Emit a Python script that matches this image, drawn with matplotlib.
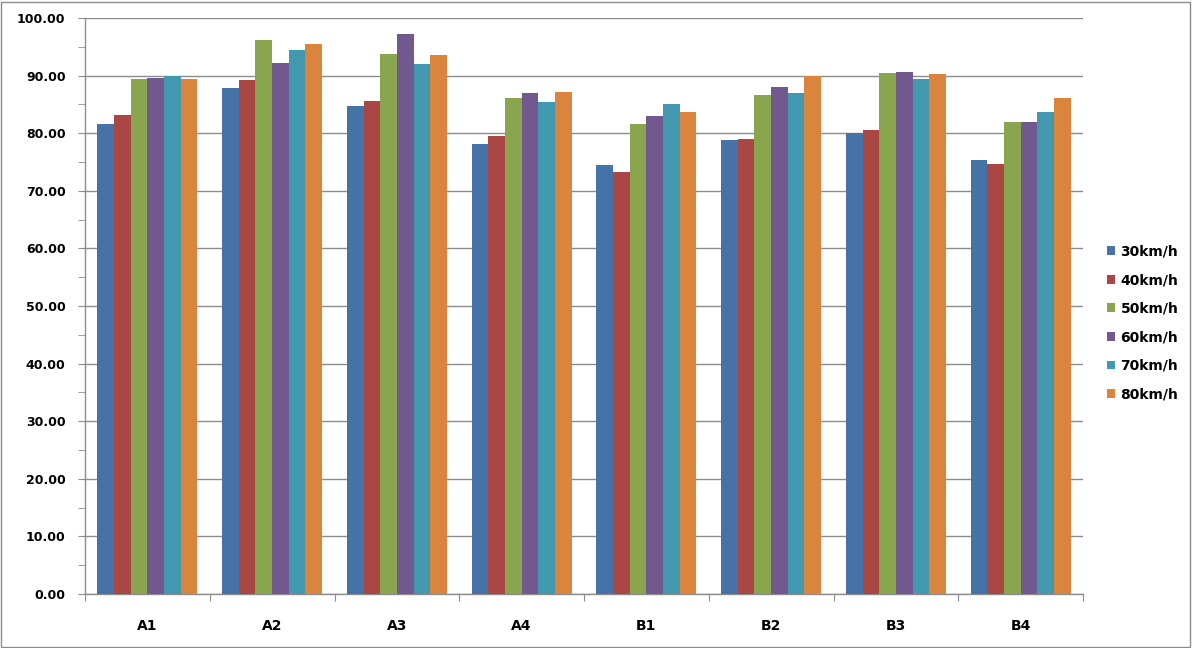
import matplotlib
matplotlib.use("Agg")
import matplotlib.pyplot as plt
import numpy as np
from matplotlib.patches import Rectangle

categories = ["A1", "A2", "A3", "A4", "B1", "B2", "B3", "B4"]
series_names = ["30km/h", "40km/h", "50km/h", "60km/h", "70km/h", "80km/h"]
s30 = [81.6, 87.9, 84.7, 78.1, 74.5, 78.8, 80.0, 75.4]
s40 = [83.2, 89.3, 85.6, 79.5, 73.3, 79.0, 80.6, 74.7]
s50 = [89.4, 96.2, 93.8, 86.1, 81.6, 86.7, 90.5, 82.0]
s60 = [89.6, 92.2, 97.3, 87.0, 83.0, 88.1, 90.7, 82.0]
s70 = [89.9, 94.5, 92.1, 85.4, 85.1, 87.0, 89.4, 83.7]
s80 = [89.4, 95.4, 93.6, 87.2, 83.7, 89.9, 90.3, 86.1]
series = [s30, s40, s50, s60, s70, s80]
colors = ["#4572A7", "#AA4643", "#89A54E", "#71588F", "#4198AF", "#DB843D"]

W, H = 1192, 648
fig = plt.figure(figsize=(W / 100, H / 100), dpi=100)
ax = fig.add_axes([85 / W, 1 - 594 / H, (1083 - 85) / W, (594 - 18) / H])

n = len(series)
x = np.arange(len(categories))
group_w = 0.8
bw = group_w / n
for i, (vals, c, name) in enumerate(zip(series, colors, series_names)):
    ax.bar(x - group_w / 2 + bw * (i + 0.5), vals, width=bw, color=c,
           label=name, zorder=3, linewidth=0)

ax.set_xlim(-0.5, len(categories) - 0.5)
ax.set_ylim(0, 100)
ax.set_yticks(np.arange(0, 101, 10))
ax.set_yticks(np.arange(5, 100, 10), minor=True)
ax.set_yticklabels([f"{v:.2f}" for v in np.arange(0, 101, 10)],
                   fontweight="bold", fontsize=9)
ax.yaxis.grid(True, color="#8c8c8c", linewidth=1, zorder=0)
ax.set_axisbelow(True)

ax.set_xticks(np.arange(-0.5, len(categories), 1))
ax.set_xticklabels([])
ax.set_xticks(x, minor=True)
ax.set_xticklabels(categories, minor=True, fontweight="bold", fontsize=10)
ax.tick_params(axis="x", which="minor", length=0, pad=18)
ax.tick_params(axis="x", which="major", length=5, color="#8c8c8c", direction="out")
ax.tick_params(axis="y", which="major", length=5, color="#8c8c8c", pad=9)
ax.tick_params(axis="y", which="minor", length=5, color="#8c8c8c")

for s in ["top", "right"]:
    ax.spines[s].set_visible(False)
for s in ["left", "bottom"]:
    ax.spines[s].set_color("#8c8c8c")
    ax.spines[s].set_linewidth(1)

leg = fig.legend(loc="center left", bbox_to_anchor=(1094 / W, 1 - 323 / H),
                 frameon=False, prop={"weight": "bold", "size": 10},
                 handlelength=0.6, handleheight=0.6, handletextpad=0.4,
                 labelspacing=1.05)

fig.patches.append(Rectangle((1 / W, 1 / H), (W - 3) / W, (H - 3) / H,
                             transform=fig.transFigure, fill=False,
                             edgecolor="#8c8c8c", linewidth=1))

fig.savefig("out.png", dpi=100, facecolor="white")
